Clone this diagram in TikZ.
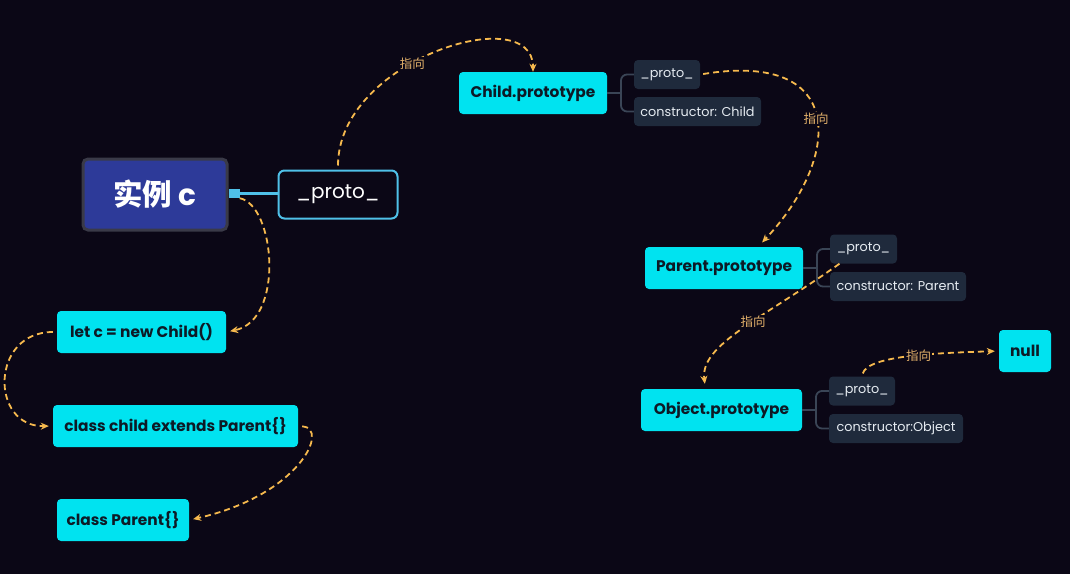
\documentclass[tikz,border=0pt]{standalone}
\usepackage{fontspec}
\setmainfont{Poppins}
\newfontfamily\cjk{Noto Sans CJK SC}
\usetikzlibrary{arrows.meta}

\definecolor{bg}{HTML}{0B0716}
\definecolor{cyanbox}{HTML}{00E3F0}
\definecolor{darktext}{HTML}{0D1A26}
\definecolor{subbox}{HTML}{1F2A3C}
\definecolor{subtext}{HTML}{E6ECF2}
\definecolor{linkcol}{HTML}{F6B94E}
\definecolor{labelcol}{HTML}{E2B06A}
\definecolor{brk}{HTML}{3A4556}
\definecolor{instfill}{HTML}{2D3A99}
\definecolor{instdraw}{HTML}{3A3A48}
\definecolor{protoline}{HTML}{4FC0E8}

\begin{document}
\begin{tikzpicture}[x=1pt,y=-1pt,>={Stealth[length=8pt,width=7pt]},
        main node/.style={rectangle,rounded corners=4pt,fill=cyanbox,text=darktext,inner sep=0pt,
          minimum height=42pt,font=\fontsize{15.4}{18}\selectfont\bfseries},
        sub node/.style={rectangle,rounded corners=4pt,fill=subbox,text=subtext,inner sep=0pt,
          minimum height=29pt,font=\fontsize{12.8}{14}\selectfont},
        pointer/.style={->,draw=linkcol,fill=none,line width=1.8pt,dash pattern=on 6pt off 4pt},
        label node/.style={fill=bg,text=labelcol,inner sep=1pt,font=\cjk\fontsize{12.5}{14}\selectfont},
        bracket/.style={draw=brk,line width=1.8pt,rounded corners=6pt}]

        \useasboundingbox[fill=bg] (0,0) rectangle (1070,574);

        % instance and its prototype link
        \node[rectangle,rounded corners=5pt,fill=instfill,draw=instdraw,line width=3pt,text=white,
          minimum width=144pt,minimum height=71pt,font=\fontsize{29.5}{32}\selectfont\bfseries]
          (inst) at (155,194.5) {{\cjk 实例} c};
        \node[rectangle,rounded corners=6pt,draw=protoline,line width=2pt,fill=bg,text=white,
          minimum width=119pt,minimum height=48pt,font=\fontsize{20}{22}\selectfont]
          (proto) at (338,194.5) {\_proto\_};
        \node[rectangle,fill=protoline,minimum width=11pt,minimum height=9pt,inner sep=0pt]
          (knob) at (234,193.5) {};
        \draw[protoline,line width=3pt] (knob) -- (knob -| proto.west);

        % code nodes
        \node[main node,minimum width=169pt] (letc) at (141.5,332) {let c = new Child()};
        \node[main node,minimum width=245pt] (classchild) at (175.5,426) {class child extends Parent\{\}};
        \node[main node,minimum width=132pt] (classparent) at (123,520) {class Parent\{\}};

        % prototype chain
        \node[main node,minimum width=148pt] (childp) at (533,93) {Child.prototype};
        \node[sub node,minimum width=66pt] (cproto) at (667,74.5) {\_proto\_};
        \node[sub node,minimum width=127pt] (cctor) at (697.5,111.5) {constructor: Child};

        \node[main node,minimum width=158pt] (parentp) at (724,268) {Parent.prototype};
        \node[sub node,minimum width=67pt] (pproto) at (863.5,249) {\_proto\_};
        \node[sub node,minimum width=136pt] (pctor) at (898,286.5) {constructor: Parent};

        \node[main node,minimum width=161pt] (objectp) at (721.5,410) {Object.prototype};
        \node[sub node,minimum width=66pt] (oproto) at (862,391) {\_proto\_};
        \node[sub node,minimum width=134pt] (octor) at (896,428.5) {constructor:Object};

        \node[main node,minimum width=52pt] (null) at (1025,351) {null};

        % brackets
        \coordinate (cj) at (621,93);
        \coordinate (pj) at (817,268);
        \coordinate (oj) at (816,410);
        \draw[bracket] (cproto.west) -| (cj) |- (cctor.west);
        \draw[bracket] (childp.east) -- (cj);
        \draw[bracket] (pproto.west) -| (pj) |- (pctor.west);
        \draw[bracket] (parentp.east) -- (pj);
        \draw[bracket] (oproto.west) -| (oj) |- (octor.west);
        \draw[bracket] (objectp.east) -- (oj);

        % pointers
        \draw[pointer,shorten <=4pt] (proto.north) .. controls (338,60) and (533,0) .. (childp.north)
          node[label node,pos=0.42] {指向};
        \draw[pointer,shorten <=3pt,shorten >=6pt] (cproto.east) .. controls (850,50) and (840,160) .. ([xshift=34pt]parentp.north)
          node[label node,pos=0.5] {指向};
        \draw[pointer,shorten >=5pt] ([xshift=-24pt]pproto.south) .. controls (760,320) and (700,345) .. ([xshift=-16pt]objectp.north)
          node[label node,pos=0.42] {指向};
        \draw[pointer,shorten <=3pt,shorten >=4pt] (oproto.north) .. controls (868,355) and (940,353) .. (null.west)
          node[label node,pos=0.55] {指向};
        \draw[pointer,shorten >=4pt] (knob.south east) .. controls (275,205) and (285,320) .. (letc.east);
        \draw[pointer,shorten <=4pt,shorten >=4pt] (letc.west) .. controls (-10,332) and (-10,427) .. (classchild.west);
        \draw[pointer,shorten <=4pt,shorten >=4pt] (classchild.east) .. controls (330,428) and (300,495) .. (classparent.east);
      \end{tikzpicture}
\end{document}
